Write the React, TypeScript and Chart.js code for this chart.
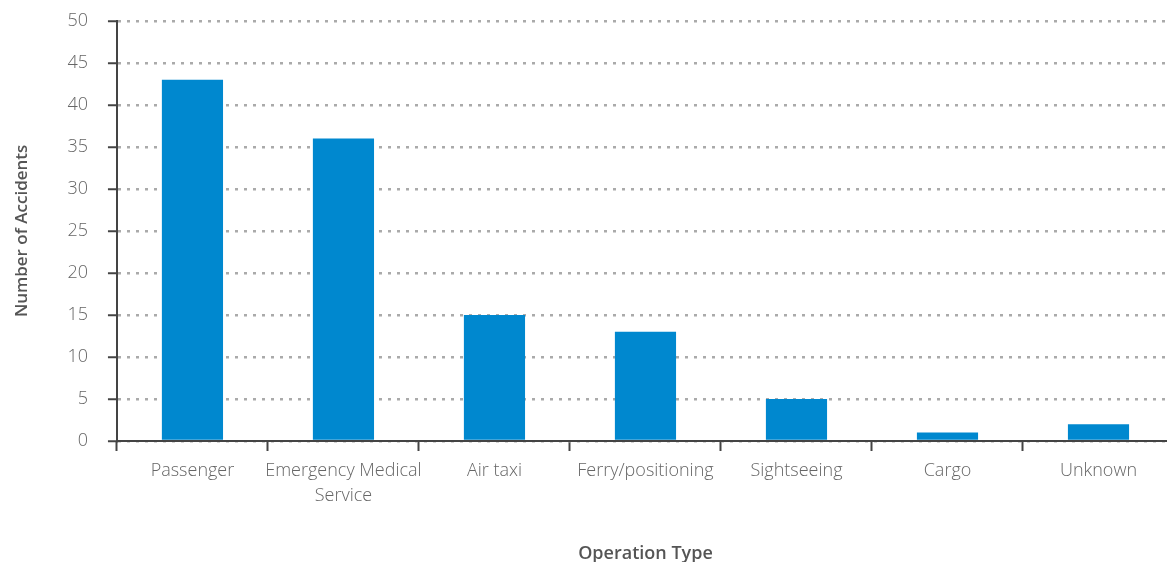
import React, { useEffect, useRef } from "react";
import { Chart, registerables } from "chart.js";

Chart.register(...registerables);

const categories: (string | string[])[] = [
  "Passenger",
  ["Emergency Medical", "Service"],
  "Air taxi",
  "Ferry/positioning",
  "Sightseeing",
  "Cargo",
  "Unknown",
];
const accidents: number[] = [43, 36, 15, 13, 5, 1, 2];
const yTitle = "Number of Accidents";
const xTitle = "Operation Type";

const FONT = "'Open Sans'";

export default function App() {
  const ref = useRef<HTMLCanvasElement | null>(null);
  useEffect(() => {
    document.body.style.margin = "0";
    const ctx = ref.current!;
    const chart = new Chart(ctx, {
      type: "bar",
      data: {
        labels: categories,
        datasets: [
          {
            data: accidents,
            backgroundColor: "#0088cf",
            barPercentage: 0.5,
            categoryPercentage: 0.81,
          },
        ],
      },
      options: {
        animation: false,
        responsive: false,
        maintainAspectRatio: false,
        layout: { padding: { top: 0, right: 0, left: 1, bottom: 0 } },
        plugins: { legend: { display: false }, tooltip: { enabled: false } },
        scales: {
          x: {
            border: { display: true, color: "#444", width: 2 },
            grid: {
              drawOnChartArea: false,
              drawTicks: true,
              tickLength: 10,
              tickColor: "#444",
              tickWidth: 2,
            },
            ticks: {
              color: "#666",
              font: { family: FONT, size: 18, weight: 300, lineHeight: 1.4 },
              padding: 7,
              maxRotation: 0,
              autoSkip: false,
            },
            title: {
              display: true,
              text: xTitle,
              color: "#555",
              font: { family: FONT, size: 18, weight: 600 },
              padding: { top: 28, bottom: 0 },
            },
          },
          y: {
            min: 0,
            max: 50,
            border: { display: true, color: "#444", width: 2, dash: [3, 6] },
            grid: {
              color: "#aaa",
              lineWidth: 2.5,
              drawTicks: true,
              tickLength: 9,
              tickColor: "#444",
              tickWidth: 2,
              tickBorderDash: [],
            } as any,
            ticks: {
              stepSize: 5,
              color: "#666",
              font: { family: FONT, size: 18, weight: 300 },
              padding: 20,
            },
            title: {
              display: true,
              text: yTitle,
              color: "#555",
              font: { family: FONT, size: 17, weight: 600 },
              padding: { top: 11, bottom: 15 },
            },
          },
        },
      },
    });
    return () => chart.destroy();
  }, []);
  return (
    <div style={{ width: 1167, height: 562, overflow: "hidden", position: "relative" }}>
      <canvas
        ref={ref}
        width={1174}
        height={575}
        style={{ display: "block", position: "absolute", left: 0, top: -10 }}
      />
    </div>
  );
}
